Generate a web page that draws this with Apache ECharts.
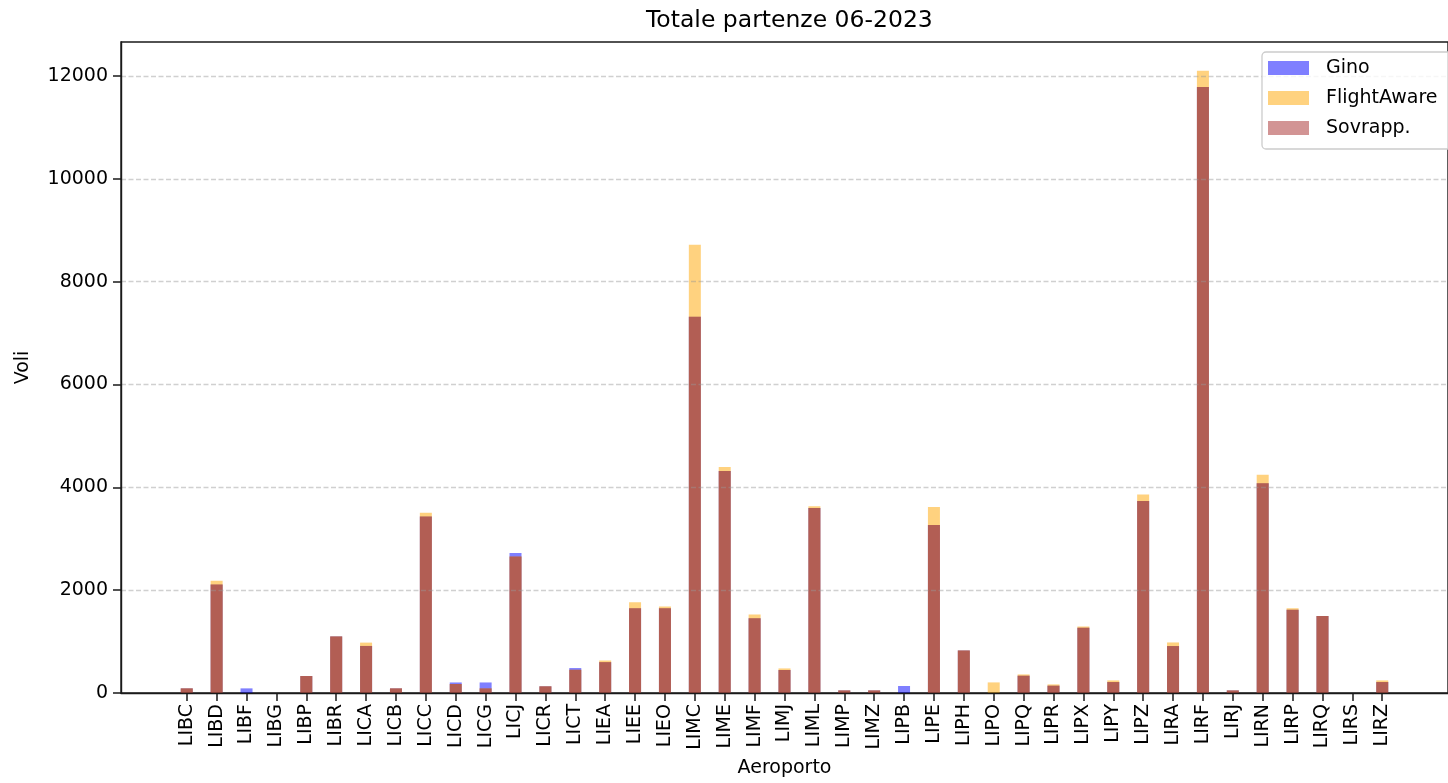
<!DOCTYPE html>
<html>
<head>
<meta charset="utf-8">
<script src="https://cdn.jsdelivr.net/npm/echarts@6/dist/echarts.min.js"></script>
<style>
html,body{margin:0;padding:0;background:#fff;}
#chart{width:1448px;height:783px;}
</style>
</head>
<body>
<div id="chart"></div>
<script>
const categories = ["LIBC","LIBD","LIBF","LIBG","LIBP","LIBR","LICA","LICB","LICC","LICD","LICG","LICJ","LICR","LICT","LIEA","LIEE","LIEO","LIMC","LIME","LIMF","LIMJ","LIML","LIMP","LIMZ","LIPB","LIPE","LIPH","LIPO","LIPQ","LIPR","LIPX","LIPY","LIPZ","LIRA","LIRF","LIRJ","LIRN","LIRP","LIRQ","LIRS","LIRZ"];
const gino        = [90,2110,90,0,330,1100,915,90,3430,205,205,2725,130,485,600,1650,1650,7315,4318,1456,447,3598,50,50,136,3268,827,0,336,142,1268,213,3734,913,11786,50,4078,1617,1495,0,213];
const flightAware = [90,2185,0,0,330,1100,980,90,3505,175,90,2655,130,452,632,1765,1680,8715,4395,1525,478,3630,50,50,0,3618,827,206,361,167,1293,245,3858,983,12100,50,4246,1650,1495,0,245];
const sovrapp     = [90,2110,0,0,330,1100,915,90,3430,175,90,2655,130,452,600,1650,1650,7315,4318,1456,447,3598,50,50,0,3268,827,0,336,142,1268,213,3734,913,11786,50,4078,1617,1495,0,213];
const yTicks = [0,2000,4000,6000,8000,10000,12000];

const idx = categories.map((c,i)=>i);
const toPairs = arr => arr.map((v,i)=>[i,v]);
const FONT = 'DejaVu Sans';
const AXC = '#1a1a1a';

const chart = echarts.init(document.getElementById('chart'), null, {renderer:'canvas'});
chart.setOption({
  animation:false,
  backgroundColor:'#fff',
  textStyle:{fontFamily:FONT},
  title:{
    text:'Totale partenze 06-2023',
    left:641, top:4,
    textStyle:{fontFamily:FONT,fontSize:23.5,fontWeight:'normal',color:'#000'}
  },
  legend:{
    orient:'vertical',
    left:1262, top:52,
    itemWidth:41, itemHeight:14, itemGap:10,
    icon:'rect',
    padding:[6,20,11,6],
    borderColor:'#cccccc', borderWidth:1.3, borderRadius:4,
    backgroundColor:'rgba(255,255,255,0.8)',
    textStyle:{fontFamily:FONT,fontSize:19,color:'#000',lineHeight:20,padding:[0,0,0,12]},
    data:['Gino','FlightAware','Sovrapp.']
  },
  grid:{
    left:121, top:42, width:1338, height:652,
    show:true, borderColor:AXC, borderWidth:1.4, backgroundColor:'transparent'
  },
  xAxis:{
    type:'value',
    min:-2.2, max:42.2,
    z:4,
    name:'Aeroporto', nameLocation:'middle', nameGap:66,
    nameTextStyle:{fontFamily:FONT,fontSize:19,color:'#000'},
    axisLine:{show:true,onZero:false,lineStyle:{color:AXC,width:1.4}},
    axisTick:{show:true,inside:false,length:8,lineStyle:{color:AXC,width:1.5},customValues:idx},
    axisLabel:{
      rotate:90, margin:11, fontFamily:FONT, fontSize:19, color:'#000',
      customValues:idx,
      formatter:v=>categories[Math.round(v)] ?? ''
    },
    splitLine:{show:false}
  },
  yAxis:{
    type:'value',
    min:0, max:12660, interval:2000,
    z:3,
    name:'Voli', nameLocation:'middle', nameGap:88,
    nameTextStyle:{fontFamily:FONT,fontSize:19,color:'#000'},
    axisLine:{show:true,onZero:false,lineStyle:{color:AXC,width:1.4}},
    axisTick:{show:true,inside:false,length:8,lineStyle:{color:AXC,width:1.5}},
    axisLabel:{margin:13,fontFamily:FONT,fontSize:19,color:'#000',showMaxLabel:false,
      formatter:v=>(yTicks.includes(v)?String(v):'')},
    splitLine:{show:true,showMaxLine:false,showMinLine:false,
      lineStyle:{color:'rgba(150,150,150,0.45)',width:1.3,type:[5,2.5]}}
  },
  series:[
    {name:'Gino',type:'bar',data:toPairs(gino),barWidth:12,barGap:'-100%',
     itemStyle:{color:'rgba(0,0,255,0.5)'}},
    {name:'FlightAware',type:'bar',data:toPairs(flightAware),barWidth:12,barGap:'-100%',
     itemStyle:{color:'rgba(255,165,0,0.5)'}},
    {name:'Sovrapp.',type:'bar',data:toPairs(sovrapp),barWidth:12,barGap:'-100%',
     itemStyle:{color:'rgba(165,42,42,0.5)'}}
  ]
});
</script>
</body>
</html>
